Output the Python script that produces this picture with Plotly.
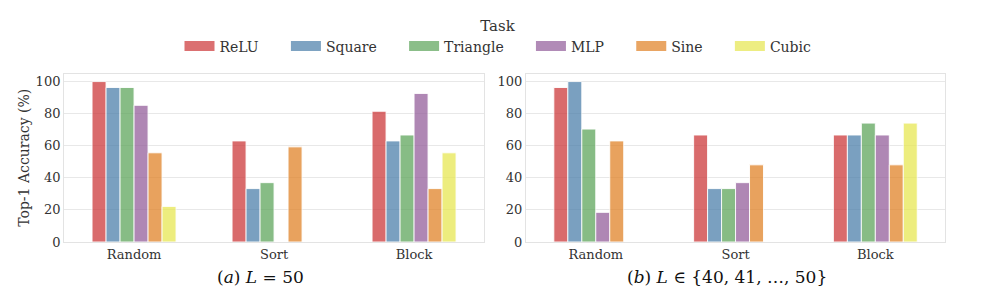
import plotly.graph_objects as go

categories = ["Random", "Sort", "Block"]
tasks = ["ReLU", "Square", "Triangle", "MLP", "Sine", "Cubic"]

# Panel (a): L = 50  (None = no bar)
acc_a = {
    "ReLU":     [100.0, 63.0, 81.5],
    "Square":   [96.3, 33.3, 63.0],
    "Triangle": [96.3, 37.0, 66.7],
    "MLP":      [85.2, None, 92.6],
    "Sine":     [55.6, 59.3, 33.3],
    "Cubic":    [22.2, None, 55.6],
}
# Panel (b): L in {40,...,50}
acc_b = {
    "ReLU":     [96.3, 66.7, 66.7],
    "Square":   [100.0, 33.3, 66.7],
    "Triangle": [70.4, 33.3, 74.1],
    "MLP":      [18.5, 37.0, 66.7],
    "Sine":     [63.0, 48.1, 48.1],
    "Cubic":    [None, None, 74.1],
}
y_ticks = [0, 20, 40, 60, 80, 100]

colors = {
    "ReLU": "rgb(203,51,52)",
    "Square": "rgb(71,124,168)",
    "Triangle": "rgb(89,162,87)",
    "MLP": "rgb(144,89,152)",
    "Sine": "rgb(223,127,32)",
    "Cubic": "rgb(230,230,77)",
}
legend_colors = {
    "ReLU": "rgb(219,112,113)",
    "Square": "rgb(126,163,194)",
    "Triangle": "rgb(139,190,137)",
    "MLP": "rgb(177,139,183)",
    "Sine": "rgb(233,165,99)",
    "Cubic": "rgb(237,237,130)",
}

FONT = "DejaVu Serif"
TXT = "#333333"
OPA = 0.72
PAD = "\u00a0" * 5  # spacing after legend labels

fig = go.Figure()
for t in tasks:
    fig.add_trace(go.Bar(
        x=categories, y=acc_a[t], name=t, legendgroup=t,
        marker=dict(color=colors[t], opacity=OPA,
                    line=dict(color="rgba(255,255,255,0.9)", width=1)),
        xaxis="x", yaxis="y", showlegend=False,
    ))
for t in tasks:
    fig.add_trace(go.Bar(
        x=categories, y=acc_b[t], name=t, legendgroup=t,
        marker=dict(color=colors[t], opacity=OPA,
                    line=dict(color="rgba(255,255,255,0.9)", width=1)),
        xaxis="x2", yaxis="y2", showlegend=False,
    ))
# legend entries (wide swatches)
for i, t in enumerate(tasks):
    fig.add_trace(go.Scatter(
        x=[None], y=[None], mode="lines",
        name=t + (PAD if i < len(tasks) - 1 else ""), legendgroup=t,
        line=dict(color=legend_colors[t], width=10),
        xaxis="x", yaxis="y", showlegend=True, hoverinfo="skip",
    ))

ax_common = dict(gridcolor="#e8e8e8", gridwidth=1,
                 showline=True, linecolor="#e3e3e3", linewidth=1, mirror=True,
                 ticks="", zeroline=False, automargin=False,
                 tickfont=dict(family=FONT, size=13, color=TXT))

ydom = [0.1906, 0.754]
fig.update_layout(
    width=996, height=299,
    margin=dict(l=0, r=0, t=0, b=0, pad=0, autoexpand=False),
    paper_bgcolor="white", plot_bgcolor="white",
    barmode="group", bargap=0.4, bargroupgap=0,
    font=dict(family=FONT, color=TXT),
    xaxis=dict(domain=[0.0643, 0.486], anchor="y", range=[-0.5, 2.5],
               showgrid=False, **ax_common),
    yaxis=dict(domain=ydom, anchor="x", range=[0, 105], tickvals=y_ticks, showgrid=True,
               title=dict(text="Top-1 Accuracy (%)", font=dict(family=FONT, size=14, color=TXT), standoff=2),
               **ax_common),
    xaxis2=dict(domain=[0.528, 0.949], anchor="y2", range=[-0.5, 2.5],
                showgrid=False, **ax_common),
    yaxis2=dict(domain=ydom, anchor="x2", range=[0, 105], tickvals=y_ticks, showgrid=True,
                **ax_common),
    legend=dict(orientation="h", x=0.5, xanchor="center", y=1 - 11 / 299, yanchor="top",
                title=dict(text="Task", side="top center", font=dict(family=FONT, size=15, color=TXT)),
                font=dict(family=FONT, size=14, color=TXT)),
    annotations=[
        dict(text="(<i>a</i>) <i>L</i> = 50", x=260 / 996, y=1 - 277 / 299,
             xanchor="center", yanchor="middle",
             xref="paper", yref="paper", showarrow=False,
             font=dict(family=FONT, size=17, color="#111")),
        dict(text="(<i>b</i>) <i>L</i> ∈ {40, 41, …, 50}", x=727 / 996, y=1 - 277 / 299,
             xanchor="center", yanchor="middle",
             xref="paper", yref="paper", showarrow=False,
             font=dict(family=FONT, size=17, color="#111")),
    ],
)

fig.write_html(
    "out.html",
    config={"displayModeBar": False},
    post_script=(
        "document.documentElement.style.margin='0';"
        "document.documentElement.style.overflow='hidden';"
        "document.body.style.margin='0';"
        "document.body.style.overflow='hidden';"
    ),
)
